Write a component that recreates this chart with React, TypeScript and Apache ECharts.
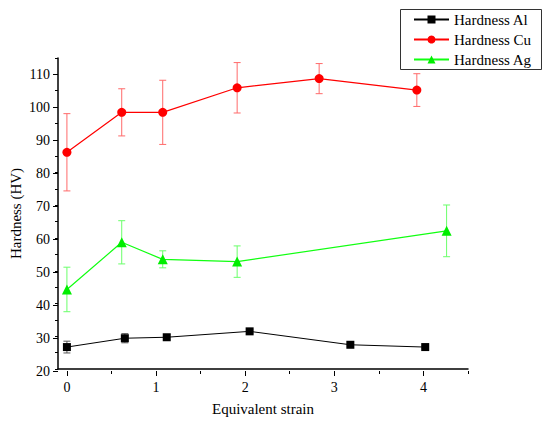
import React, { useEffect, useRef } from "react";
import * as echarts from "echarts";

const alX = [0, 0.65, 1.12, 2.05, 3.18, 4.02];
const alY = [26.7, 29.4, 29.7, 31.5, 27.4, 26.7];
const alErr = [1.8, 1.4, 0.8, 0.6, 0.4, 0.4];

const cuX = [0, 0.615, 1.075, 1.91, 2.83, 3.926];
const cuY = [86.2, 98.4, 98.4, 105.9, 108.7, 105.2];
const cuErr = [11.8, 7.2, 9.8, 7.7, 4.6, 5.0];

const agX = [0, 0.615, 1.075, 1.91, 4.26];
const agY = [44.3, 58.7, 53.5, 52.8, 62.2];
const agErr = [6.8, 6.6, 2.6, 4.8, 7.9];

const seriesNames = ["Hardness Al", "Hardness Cu", "Hardness Ag"];
const xTitle = "Equivalent strain";
const yTitle = "Hardness (HV)";

const FONT = "Liberation Serif";

function errSeries(xs: number[], ys: number[], es: number[], color: string) {
  return {
    type: "custom",
    xAxisIndex: 0,
    yAxisIndex: 0,
    silent: true,
    z: 1,
    data: xs.map((x, i) => [x, ys[i] - es[i], ys[i] + es[i]]),
    encode: { x: 0, y: [1, 2] },
    renderItem: (params: any, api: any) => {
      const x = api.value(0);
      const lo = api.value(1);
      const hi = api.value(2);
      const t = api.coord([x, hi]);
      const b = api.coord([x, lo]);
      const w = 3.5;
      const style = { stroke: color, lineWidth: 1, fill: "none" };
      return {
        type: "group",
        children: [
          { type: "line", shape: { x1: t[0], y1: t[1], x2: b[0], y2: b[1] }, style },
          { type: "line", shape: { x1: t[0] - w, y1: t[1], x2: t[0] + w, y2: t[1] }, style },
          { type: "line", shape: { x1: b[0] - w, y1: b[1], x2: b[0] + w, y2: b[1] }, style },
        ],
      };
    },
  };
}

export default function App() {
  const ref = useRef<HTMLDivElement>(null);
  useEffect(() => {
    document.body.style.margin = "0";
    const chart = echarts.init(ref.current!, null, { renderer: "svg" });
    const labelStyle = { color: "#000", fontFamily: FONT, fontSize: 14 };
    const hiddenAxis = (grid: number, min: number, max: number) => ({
      type: "value",
      gridIndex: grid,
      min,
      max,
      show: false,
    });
    const option: any = {
      animation: false,
      backgroundColor: "#fff",
      textStyle: { fontFamily: FONT, color: "#000" },
      grid: [
        { left: 58, top: 58, width: 410, height: 313 },
        { left: 58, top: 58 + 5 * (313 / 95), width: 410, height: 313 - 5 * (313 / 95) },
        { left: 58 + 0.1 * (410 / 4.6), top: 58, width: 4.5 * (410 / 4.6), height: 313 },
        { left: 58 + 0.1 * (410 / 4.6), top: 58, width: 4 * (410 / 4.6), height: 313 },
      ],
      xAxis: [
        {
          type: "value",
          gridIndex: 0,
          min: -0.1,
          max: 4.5,
          axisLine: { show: true, onZero: false, lineStyle: { color: "#000", width: 1.5 } },
          axisTick: { show: false },
          axisLabel: { show: false },
          splitLine: { show: false },
          name: xTitle,
          nameLocation: "middle",
          nameGap: 32,
          nameTextStyle: { color: "#000", fontFamily: FONT, fontSize: 15 },
        },
        hiddenAxis(1, 0, 1),
        {
          type: "value",
          gridIndex: 2,
          min: 0,
          max: 4.5,
          interval: 0.5,
          axisLine: { show: false },
          axisTick: { show: true, length: 3, lineStyle: { color: "#000", width: 1 } },
          axisLabel: { show: false },
          splitLine: { show: false },
        },
        {
          type: "value",
          gridIndex: 3,
          min: 0,
          max: 4,
          interval: 1,
          axisLine: { show: false },
          axisTick: { show: true, length: 5, lineStyle: { color: "#000", width: 1 } },
          axisLabel: { show: true, margin: 9, ...labelStyle },
          splitLine: { show: false },
        },
      ],
      yAxis: [
        {
          type: "value",
          gridIndex: 0,
          min: 20,
          max: 115,
          interval: 5,
          axisLine: { show: true, onZero: false, lineStyle: { color: "#000", width: 1.5 } },
          axisTick: { show: true, length: 3, lineStyle: { color: "#000", width: 1 } },
          axisLabel: { show: false },
          splitLine: { show: false },
          name: yTitle,
          nameLocation: "middle",
          nameRotate: 90,
          nameGap: 35,
          nameTextStyle: { color: "#000", fontFamily: FONT, fontSize: 15 },
        },
        {
          type: "value",
          gridIndex: 1,
          min: 20,
          max: 110,
          interval: 10,
          axisLine: { show: false },
          axisTick: { show: true, length: 5, lineStyle: { color: "#000", width: 1 } },
          axisLabel: { show: true, margin: 8, ...labelStyle },
          splitLine: { show: false },
        },
        hiddenAxis(2, 0, 1),
        hiddenAxis(3, 0, 1),
      ],
      legend: {
        data: seriesNames,
        orient: "vertical",
        left: 413,
        top: 12,
        padding: 0,
        itemWidth: 35,
        itemHeight: 10,
        itemGap: 5,
        textStyle: { color: "#000", fontFamily: FONT, fontSize: 15, lineHeight: 15 },
      },
      graphic: [
        {
          type: "rect",
          shape: { x: 400.5, y: 9.5, width: 141, height: 60 },
          style: { fill: "none", stroke: "#333", lineWidth: 1 },
          silent: true,
        },
      ],
      series: [
        errSeries(alX, alY, alErr, "#555"),
        errSeries(cuX, cuY, cuErr, "#ff6a6a"),
        errSeries(agX, agY, agErr, "#6aff6a"),
        {
          name: seriesNames[0],
          type: "line",
          xAxisIndex: 0,
          yAxisIndex: 0,
          z: 3,
          data: alX.map((x, i) => [x, alY[i]]),
          symbol: "rect",
          symbolSize: 8,
          itemStyle: { color: "#000" },
          lineStyle: { color: "#000", width: 1 },
        },
        {
          name: seriesNames[1],
          type: "line",
          xAxisIndex: 0,
          yAxisIndex: 0,
          z: 3,
          data: cuX.map((x, i) => [x, cuY[i]]),
          symbol: "circle",
          symbolSize: 9,
          itemStyle: { color: "#ff0000" },
          lineStyle: { color: "#ff0000", width: 1.2 },
        },
        {
          name: seriesNames[2],
          type: "line",
          xAxisIndex: 0,
          yAxisIndex: 0,
          z: 3,
          data: agX.map((x, i) => [x, agY[i]]),
          symbol: "triangle",
          symbolSize: 10,
          itemStyle: { color: "#00ee00" },
          lineStyle: { color: "#11ff11", width: 1.2 },
        },
      ],
    };
    chart.setOption(option);
    return () => chart.dispose();
  }, []);
  return <div ref={ref} style={{ width: 542, height: 421 }} />;
}
